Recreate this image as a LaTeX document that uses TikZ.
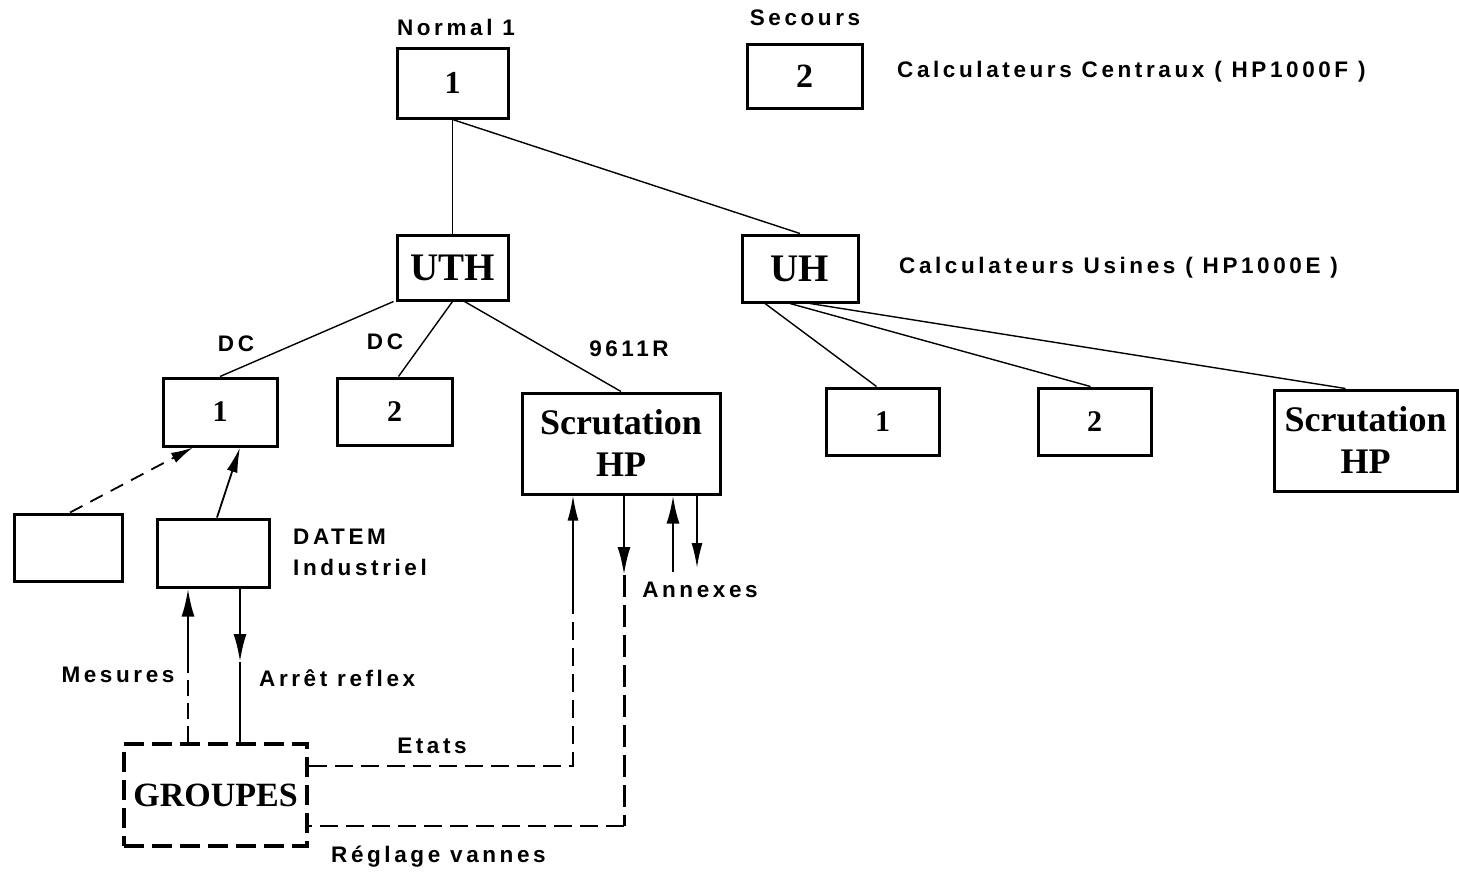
\documentclass[tikz,border=0pt]{standalone}
\usepackage{fontspec}
\setmainfont{Liberation Serif}
\newfontfamily\labfont[LetterSpace=16]{Liberation Sans}
\usetikzlibrary{arrows.meta}
\begin{document}
\begin{tikzpicture}[x=1pt,y=-1pt,
  box/.style={draw, line width=3pt, inner sep=0pt, font=\bfseries\fontsize{32}{36}\selectfont},
  uth/.style={font=\bfseries\fontsize{39}{40}\selectfont},
  scr/.style={align=center, font=\bfseries\fontsize{36}{42}\selectfont},
  lab/.style={font=\labfont\bfseries\fontsize{22.5}{24}\selectfont, inner sep=0pt},
  link/.style={line width=1.4pt},
  arr/.style={line width=2.6pt, -{Latex[length=28pt,width=13pt]}},
  arrthin/.style={line width=1.8pt, -{Latex[length=25pt,width=11pt]}},
  dthin/.style={line width=1.6pt, dash pattern=on 18pt off 8pt},
  dthick/.style={line width=3pt, dash pattern=on 22pt off 8pt},
  dbox/.style={draw, line width=3.2pt, dash pattern=on 20pt off 8pt, inner sep=0pt}]
\useasboundingbox (0,0) rectangle (1459,871);

% boxes
\node[box, minimum width=111pt, minimum height=70pt] (top1) at (452.5,83) {1};
\node[box, minimum width=115pt, minimum height=64pt, font=\bfseries\fontsize{34}{36}\selectfont] (sec2) at (804.5,76) {2};
\node[box, uth, minimum width=111pt, minimum height=65pt] (uth) at (452.5,267.5) {UTH};
\node[box, uth, minimum width=116pt, minimum height=67pt] (uh) at (800,268.5) {UH};
\node[box, minimum width=114pt, minimum height=68pt, font=\bfseries\fontsize{30}{34}\selectfont] (d1) at (220,412) {1};
\node[box, minimum width=115pt, minimum height=67pt, font=\bfseries\fontsize{30}{34}\selectfont] (d2) at (394.5,411.5) {2};
\node[box, scr, minimum width=198pt, minimum height=101pt] (sc1) at (621,443.5) {Scrutation\\HP};
\node[box, minimum width=113pt, minimum height=67pt, font=\bfseries\fontsize{30}{34}\selectfont] (u1) at (882.5,421.5) {1};
\node[box, minimum width=113pt, minimum height=67pt, font=\bfseries\fontsize{30}{34}\selectfont] (u2) at (1094.5,421.5) {2};
\node[box, scr, minimum width=183pt, minimum height=101pt] (sc2) at (1365.5,440.5) {Scrutation\\HP};
\node[box, minimum width=108pt, minimum height=67pt] (l0) at (68,547.5) {};
\node[box, minimum width=112pt, minimum height=68pt] (dt) at (213,553) {};
\node[dbox, minimum width=183pt, minimum height=102pt, font=\bfseries\fontsize{34}{36}\selectfont] (gr) at (215.5,795) {GROUPES};

% labels
\node[lab] (ln1) at (456,27) {Normal 1};
\node[lab] (lsec) at (805,18) {Secours};
\node[lab, anchor=west] (lcc) at (897,72) {Calculateurs Centraux ( HP1000F )};
\node[lab, anchor=west] (lcu) at (899,268) {Calculateurs Usines ( HP1000E )};
\node[lab] (ldc1) at (236,344) {DC};
\node[lab] (ldc2) at (385,342) {DC};
\node[lab] (l96) at (629,349) {9611R};
\node[lab, anchor=west] (ldat) at (293,537) {DATEM};
\node[lab, anchor=west] (lind) at (293,567) {Industriel};
\node[lab] (lmes) at (118,675) {Mesures};
\node[lab, anchor=west] (larr) at (259,678) {Arrêt reflex};
\node[lab] (leta) at (432,746) {Etats};
\node[lab, anchor=west] (lreg) at (331,857) {Réglage vannes};
\node[lab] (lann) at (700,590) {Annexes};

% tree links
\draw[link] (top1.south) -- (uth.north);
\draw[link] (top1.south) -- (uh.north);
\draw[link] ([xshift=-2pt]uth.south west) -- (d1.north);
\draw[link] (uth.south) -- ([xshift=4pt]d2.north);
\draw[link] ([xshift=12pt]uth.south) -- (sc1.north);
\draw[link] ([xshift=-35pt]uh.south) -- ([xshift=-6pt]u1.north);
\draw[link] ([xshift=-10pt]uh.south) -- ([xshift=-4pt]u2.north);
\draw[link] ([xshift=10pt]uh.south) -- ([xshift=-20pt]sc2.north);

% DATEM side
\draw[line width=1.8pt, dash pattern=on 14pt off 9pt, -{Latex[length=22pt,width=11pt]}] ([xshift=2pt]l0.north) -- ([xshift=-27pt]d1.south);
\draw[arrthin] ([xshift=4pt]dt.north) -- ([xshift=20pt]d1.south);

\coordinate (m1) at (188,672);
\draw[line width=2.4pt, dash pattern=on 16pt off 7pt] (gr.north -| m1) -- (m1);
\draw[arr] (m1) -- (dt.south -| m1);
\coordinate (a1) at (240,662);
\draw[arr] (dt.south -| a1) -- (a1);
\draw[line width=2.4pt] (a1) -- (gr.north -| a1);

% Etats
\coordinate (e1) at (573,766);
\coordinate (e2) at (573,600);
\draw[dthin] (gr.east |- e1) -- (e1) -- (e2);
\draw[arrthin] (e2) -- (sc1.south -| e2);

% Reglage vannes
\coordinate (r1) at (624,575);
\coordinate (r2) at (624,826);
\draw[arr] (sc1.south -| r1) -- (r1);
\draw[dthick] (r1) -- (r2);
\draw[dthin] (r2) -- (gr.east |- r2);

% Annexes
\coordinate (an1) at (673,572);
\coordinate (an2) at (697,568);
\draw[arr] (an1) -- (sc1.south -| an1);
\draw[arrthin] (sc1.south -| an2) -- (an2);
\end{tikzpicture}
\end{document}
